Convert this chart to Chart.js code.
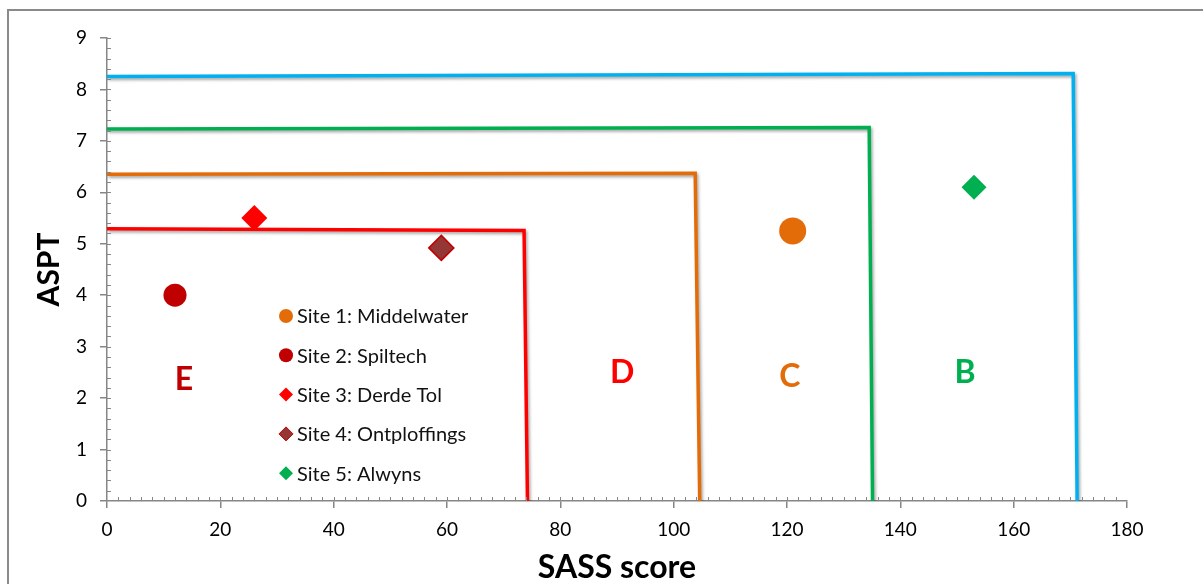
<!DOCTYPE html>
<html>
<head>
<meta charset="utf-8">
<script src="https://cdn.jsdelivr.net/npm/chart.js@4/dist/chart.umd.min.js"></script>
<style>
  html, body { margin: 0; padding: 0; background: #fff; }
  #wrap { width: 1203px; height: 584px; position: relative; }
</style>
</head>
<body>
<div id="wrap"><canvas id="grafico" width="1203" height="584"></canvas></div>
<script>
// Punti dei siti
const siteNames = ['Site 1: Middelwater', 'Site 2: Spiltech', 'Site 3: Derde Tol', 'Site 4: Ontploffings', 'Site 5: Alwyns'];
const sassScores = [121, 12, 26, 59, 153];
const asptValues = [5.25, 4.0, 5.5, 4.92, 6.1];
const siteColors = ['#E36C09', '#C00000', '#FF0000', '#953735', '#00B050'];
const siteBorders = ['#E36C09', '#C00000', '#FF0000', '#C00000', '#00B050'];
const siteShapes = ['circle', 'circle', 'rectRot', 'rectRot', 'rectRot'];
const siteSizes = [13.5, 11.5, 13, 12.5, 12.5];

// Linee di confine delle classi (B, C, D, E)
const bandNames = ['B', 'C', 'D', 'E'];
const bandColors = ['#00B0F0', '#00B050', '#E36C09', '#FF0000'];
const bandLineX = [
    [0, 170.5, 171.2],
    [0, 134.5, 135.1],
    [0, 103.8, 104.6],
    [0, 73.6, 74.2]
];
const bandLineY = [
    [8.25, 8.31, 0],
    [7.23, 7.26, 0],
    [6.35, 6.37, 0],
    [5.29, 5.26, 0]
];

// Etichette delle zone
const zoneLabels = ['E', 'D', 'C', 'B'];
const zoneColors = ['#C00000', '#FF0000', '#E36C09', '#00B050'];
const zoneX = [13.6, 90.9, 120.5, 151.4];
const zoneY = [2.35, 2.49, 2.42, 2.49];

const xTicks = [0, 20, 40, 60, 80, 100, 120, 140, 160, 180];
const yTicks = [0, 1, 2, 3, 4, 5, 6, 7, 8, 9];

const FONT = 'Lato, "Open Sans", sans-serif';
const AXIS = '#868686';

const datasets = [];
bandNames.forEach((nome, i) => {
    datasets.push({
        label: 'Confine ' + nome,
        data: bandLineX[i].map((x, k) => ({ x: x, y: bandLineY[i][k] })),
        showLine: true,
        borderColor: bandColors[i],
        borderWidth: 3.5,
        pointRadius: 0,
        fill: false,
        tension: 0,
        isBand: true,
        order: 2
    });
});
siteNames.forEach((nome, i) => {
    datasets.push({
        label: nome,
        data: [{ x: sassScores[i], y: asptValues[i] }],
        backgroundColor: siteColors[i],
        borderColor: siteBorders[i],
        borderWidth: i === 3 ? 1.5 : 0,
        pointStyle: siteShapes[i],
        pointRadius: siteSizes[i],
        pointHoverRadius: siteSizes[i],
        order: 1
    });
});

// Ombra sulle linee di confine, bordo pagina, tacche minori, legenda ed etichette
const decorazioni = {
    id: 'decorazioni',
    beforeDraw(chart) {
        const ctx = chart.ctx;
        ctx.save();
        ctx.strokeStyle = '#8a8a8a';
        ctx.lineWidth = 2;
        ctx.beginPath();
        ctx.moveTo(8, 584);
        ctx.lineTo(8, 10);
        ctx.lineTo(1203, 10);
        ctx.stroke();
        ctx.restore();
    },
    beforeDatasetDraw(chart, args) {
        const ctx = chart.ctx;
        ctx.save();
        if (chart.data.datasets[args.index].isBand) {
            ctx.shadowColor = 'rgba(0,0,0,0.35)';
            ctx.shadowBlur = 3;
            ctx.shadowOffsetX = 1.5;
            ctx.shadowOffsetY = 2;
        }
    },
    afterDatasetDraw(chart) {
        chart.ctx.restore();
    },
    afterDraw(chart) {
        const ctx = chart.ctx;
        const xs = chart.scales.x;
        const ys = chart.scales.y;
        const area = chart.chartArea;
        ctx.save();
        // tacche minori
        ctx.strokeStyle = AXIS;
        ctx.lineWidth = 1;
        ctx.beginPath();
        for (let v = 2; v < 180; v += 2) {
            const px = Math.round(xs.getPixelForValue(v)) + 0.5;
            ctx.moveTo(px, area.bottom);
            ctx.lineTo(px, area.bottom - 4);
        }
        for (let v = 0.2; v < 9.01; v += 0.2) {
            const py = Math.round(ys.getPixelForValue(v)) + 0.5;
            ctx.moveTo(area.left, py);
            ctx.lineTo(area.left + 4, py);
        }
        ctx.stroke();

        // etichette delle zone
        ctx.font = 'bold 32px ' + FONT;
        ctx.textAlign = 'center';
        ctx.textBaseline = 'middle';
        zoneLabels.forEach((t, i) => {
            ctx.fillStyle = zoneColors[i];
            ctx.fillText(t, xs.getPixelForValue(zoneX[i]), ys.getPixelForValue(zoneY[i]));
        });

        // legenda interna
        const lx = area.left + 179;
        const ly = area.top + 278;
        ctx.font = '20px ' + FONT;
        ctx.textAlign = 'left';
        siteNames.forEach((nome, i) => {
            const cy = ly + i * 39.3;
            ctx.fillStyle = siteColors[i];
            ctx.strokeStyle = siteBorders[i];
            ctx.lineWidth = 1;
            ctx.beginPath();
            if (siteShapes[i] === 'circle') {
                ctx.arc(lx, cy, 7, 0, Math.PI * 2);
            } else {
                ctx.moveTo(lx, cy - 7);
                ctx.lineTo(lx + 7, cy);
                ctx.lineTo(lx, cy + 7);
                ctx.lineTo(lx - 7, cy);
                ctx.closePath();
            }
            ctx.fill();
            if (i === 3) ctx.stroke();
            ctx.fillStyle = '#111';
            ctx.fillText(nome, lx + 11, cy + 1);
        });
        ctx.restore();
    }
};

const ctx = document.getElementById('grafico').getContext('2d');
new Chart(ctx, {
    type: 'scatter',
    data: { datasets: datasets },
    options: {
        responsive: false,
        animation: false,
        events: [],
        layout: { padding: { left: 0, top: 38, right: 76, bottom: 0 } },
        plugins: {
            legend: { display: false },
            tooltip: { enabled: false }
        },
        scales: {
            x: {
                type: 'linear',
                min: 0,
                max: 180,
                afterFit: (s) => { s.height = 83; },
                afterBuildTicks: (s) => { s.ticks = xTicks.map(v => ({ value: v })); },
                ticks: { color: '#000', font: { family: FONT, size: 19 }, padding: 10, maxRotation: 0 },
                grid: { drawOnChartArea: false, drawTicks: true, tickLength: 7, color: AXIS, lineWidth: 1.5 },
                border: { color: AXIS, width: 1.5 },
                title: { display: true, text: 'SASS score', color: '#000', font: { family: FONT, size: 32, weight: 'bold', lineHeight: 1 }, padding: { top: 0, bottom: 0 } }
            },
            y: {
                type: 'linear',
                min: 0,
                max: 9,
                afterFit: (s) => { s.width = 107; },
                afterBuildTicks: (s) => { s.ticks = yTicks.map(v => ({ value: v })); },
                ticks: { color: '#000', font: { family: FONT, size: 19 }, padding: 13 },
                grid: { drawOnChartArea: false, drawTicks: true, tickLength: 7, color: AXIS, lineWidth: 1.5 },
                border: { color: AXIS, width: 1.5 },
                title: { display: true, text: 'ASPT', color: '#000', font: { family: FONT, size: 30, weight: 'bold' }, padding: { top: 31, bottom: 0 } }
            }
        }
    },
    plugins: [decorazioni]
});
</script>
</body>
</html>
